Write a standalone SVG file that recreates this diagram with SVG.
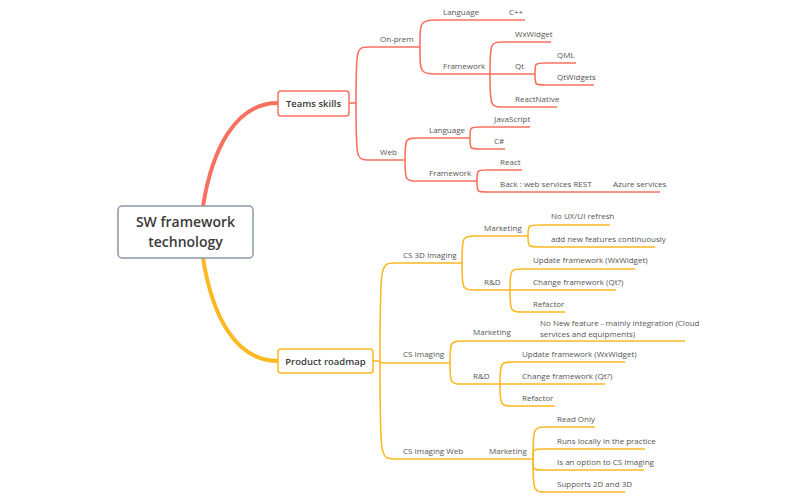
<svg xmlns="http://www.w3.org/2000/svg" width="802" height="497" viewBox="0 0 802 497">
<style>
text{font-family:"Open Sans","Liberation Sans",sans-serif;font-size:8px;fill:#555}
.r{fill:none;stroke:#F8715F;stroke-width:1.6}
.o{fill:none;stroke:#FDB924;stroke-width:1.6}
.b{font-weight:600;fill:#3a3a3a}
</style>
<rect width="802" height="497" fill="#fff"/>
<g id="connectors">
<path d="M203,206 C212,150 235,103 278,103" fill="none" stroke="#F8715F" stroke-width="4"/>
<path d="M203,258 C212,315 235,361 278,361" fill="none" stroke="#FDB924" stroke-width="4"/>
<g class="r">
<path d="M349,103 H356"/>
<path d="M356,103 C356,47 356,47 370,47 H420"/>
<path d="M356,103 C356,160 356,160 370,160 H405"/>
<path d="M420,47 C420,20 420,20 440,20 H525"/>
<path d="M420,47 C420,74 420,74 440,74 H490"/>
<path d="M490,74 C490,42 490,42 505,42 H551"/>
<path d="M490,74 H535"/>
<path d="M490,74 C490,107 490,107 505,107 H557"/>
<path d="M535,74 C535,63 535,63 545,63 H576"/>
<path d="M535,74 C535,85 535,85 545,85 H594"/>
<path d="M405,160 C405,138 405,138 420,138 H470"/>
<path d="M405,160 C405,181 405,181 420,181 H477"/>
<path d="M470,138 C470,127 470,127 480,127 H530"/>
<path d="M470,138 C470,149 470,149 480,149 H505"/>
<path d="M477,181 C477,170 477,170 487,170 H522"/>
<path d="M477,181 C477,192 477,192 487,192 H660"/>
</g>
<g class="o">
<path d="M373,361 H380"/>
<path d="M380,361 C380,263 380,263 395,263 H462"/>
<path d="M380,361 C380,363 380,363 395,363 H450"/>
<path d="M380,361 C380,459 380,459 395,459 H533"/>
<path d="M462,263 C462,236 462,236 477,236 H528"/>
<path d="M462,263 C462,290 462,290 477,290 H510"/>
<path d="M528,236 C528,225 528,225 540,225 H610"/>
<path d="M528,236 C528,247 528,247 540,247 H655"/>
<path d="M510,290 C510,269 510,269 525,269 H635"/>
<path d="M510,290 H616"/>
<path d="M510,290 C510,312 510,312 525,312 H565"/>
<path d="M450,363 C450,341 450,341 465,341 H685"/>
<path d="M450,363 C450,384 450,384 465,384 H500"/>
<path d="M500,384 C500,362 500,362 515,362 H625"/>
<path d="M500,384 H605"/>
<path d="M500,384 C500,406 500,406 515,406 H555"/>
<path d="M533,459 C533,427 533,427 548,427 H595"/>
<path d="M533,459 C533,449 533,449 543,449 H645"/>
<path d="M533,459 C533,470 533,470 543,470 H644"/>
<path d="M533,459 C533,492 533,492 548,492 H625"/>
</g>
</g>
<g id="root"><rect x="118" y="206" width="135" height="52" rx="4" fill="#fff" stroke="#8A96A8" stroke-width="1.5"/>
<text class="b" x="185.5" y="227" text-anchor="middle" style="font-size:14px">SW framework</text>
<text class="b" x="185.5" y="247" text-anchor="middle" style="font-size:14px">technology</text></g>
<g id="teams"><rect x="278" y="91" width="71" height="25" rx="3" fill="#fff" stroke="#F8715F" stroke-width="1.5"/>
<text class="b" x="313.5" y="106.5" text-anchor="middle" style="font-size:9.5px">Teams skills</text></g>
<g id="roadmap"><rect x="278" y="349" width="95" height="24" rx="3" fill="#fff" stroke="#FDB924" stroke-width="1.5"/>
<text class="b" x="325.5" y="364.5" text-anchor="middle" style="font-size:9.5px">Product roadmap</text></g>
<g id="labels">
<text x="380" y="42">On-prem</text>
<text x="443" y="15">Language</text><text x="509" y="15">C++</text>
<text x="443" y="69">Framework</text>
<text x="515" y="37">WxWidget</text><text x="515" y="69">Qt</text><text x="515" y="102">ReactNative</text>
<text x="557" y="58">QML</text><text x="557" y="80">QtWidgets</text>
<text x="380" y="155">Web</text>
<text x="429" y="133">Language</text><text x="494" y="122">JavaScript</text><text x="494" y="144">C#</text>
<text x="429" y="176">Framework</text><text x="500" y="165">React</text>
<text x="500" y="187">Back : web services REST</text><text x="613" y="187">Azure services</text>
<text x="403" y="258">CS 3D Imaging</text>
<text x="484" y="231">Marketing</text>
<text x="551" y="219">No UX/UI refresh</text><text x="551" y="242">add new features continuously</text>
<text x="484" y="285">R&amp;D</text>
<text x="533" y="263">Update framework (WxWidget)</text><text x="533" y="285">Change framework (Qt?)</text><text x="533" y="307">Refactor</text>
<text x="403" y="357">CS Imaging</text>
<text x="473" y="335">Marketing</text>
<text x="540" y="326">No New feature - mainly integration (Cloud</text><text x="540" y="336.5">services and equipments)</text>
<text x="473" y="379">R&amp;D</text>
<text x="522" y="357">Update framework (WxWidget)</text><text x="522" y="379">Change framework (Qt?)</text><text x="522" y="401">Refactor</text>
<text x="403" y="454">CS Imaging Web</text><text x="489" y="454">Marketing</text>
<text x="557" y="422">Read Only</text><text x="557" y="444">Runs locally in the practice</text>
<text x="557" y="465">Is an option to CS Imaging</text><text x="557" y="487">Supports 2D and 3D</text>
</g>
</svg>
